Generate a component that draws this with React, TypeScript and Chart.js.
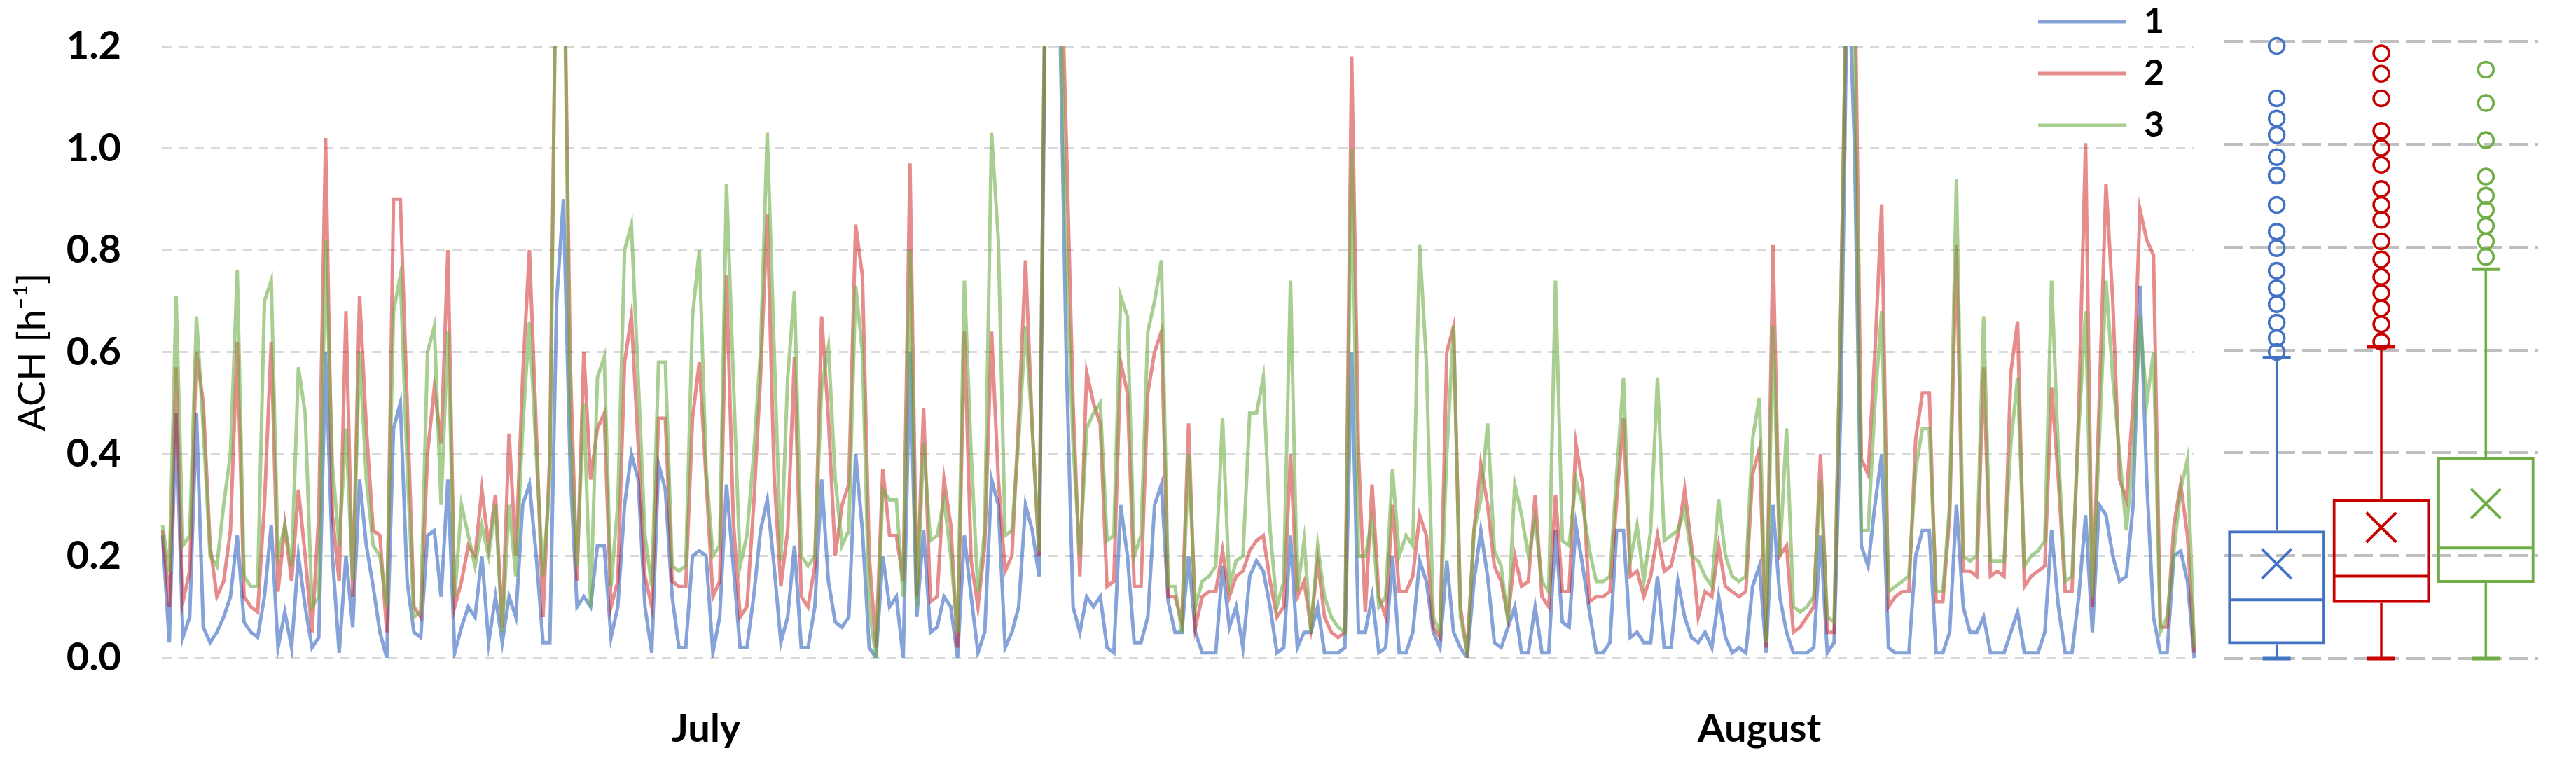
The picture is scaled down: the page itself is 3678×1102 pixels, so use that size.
import React, { useEffect, useRef } from 'react';
import { Chart, registerables } from 'chart.js';

Chart.register(...registerables);

const FONT = "Lato, 'Noto Sans', 'DejaVu Sans', sans-serif";

// ---- time-series (one value every ~4.8 h, July -> end of August) ----
const series1 = [
  0.24, 0.03, 0.48, 0.04, 0.08, 0.48, 0.06, 0.03, 0.05, 0.08,
  0.12, 0.24, 0.07, 0.05, 0.04, 0.12, 0.26, 0.02, 0.09, 0.02,
  0.20, 0.10, 0.02, 0.04, 0.60, 0.20, 0.01, 0.20, 0.06, 0.35,
  0.22, 0.14, 0.05, 0.00, 0.45, 0.50, 0.15, 0.05, 0.04, 0.24,
  0.25, 0.12, 0.35, 0.01, 0.06, 0.10, 0.08, 0.20, 0.03, 0.12,
  0.03, 0.12, 0.08, 0.30, 0.34, 0.20, 0.03, 0.03, 0.70, 0.90,
  0.37, 0.10, 0.12, 0.10, 0.22, 0.22, 0.04, 0.10, 0.30, 0.40,
  0.35, 0.10, 0.01, 0.38, 0.33, 0.12, 0.02, 0.02, 0.20, 0.21,
  0.20, 0.01, 0.08, 0.34, 0.18, 0.02, 0.02, 0.12, 0.25, 0.31,
  0.18, 0.03, 0.08, 0.22, 0.02, 0.02, 0.10, 0.35, 0.15, 0.07,
  0.06, 0.08, 0.40, 0.25, 0.02, 0.00, 0.20, 0.10, 0.12, 0.00,
  0.60, 0.08, 0.25, 0.05, 0.06, 0.12, 0.10, 0.00, 0.24, 0.12,
  0.01, 0.05, 0.35, 0.30, 0.02, 0.05, 0.10, 0.30, 0.25, 0.16,
  1.40, 1.50, 1.30, 0.59, 0.10, 0.05, 0.12, 0.10, 0.12, 0.02,
  0.01, 0.30, 0.20, 0.03, 0.03, 0.08, 0.30, 0.34, 0.11, 0.05,
  0.05, 0.20, 0.05, 0.01, 0.01, 0.01, 0.18, 0.06, 0.10, 0.02,
  0.16, 0.19, 0.17, 0.10, 0.01, 0.02, 0.24, 0.02, 0.05, 0.05,
  0.10, 0.01, 0.01, 0.01, 0.02, 0.60, 0.05, 0.05, 0.12, 0.01,
  0.02, 0.20, 0.01, 0.01, 0.05, 0.19, 0.15, 0.05, 0.02, 0.19,
  0.05, 0.02, 0.00, 0.15, 0.25, 0.16, 0.03, 0.02, 0.06, 0.10,
  0.01, 0.01, 0.10, 0.01, 0.01, 0.25, 0.07, 0.06, 0.26, 0.18,
  0.09, 0.01, 0.01, 0.03, 0.25, 0.25, 0.04, 0.05, 0.03, 0.03,
  0.16, 0.02, 0.02, 0.15, 0.08, 0.04, 0.03, 0.05, 0.02, 0.12,
  0.04, 0.01, 0.02, 0.01, 0.14, 0.18, 0.01, 0.30, 0.12, 0.05,
  0.01, 0.01, 0.01, 0.02, 0.24, 0.01, 0.03, 0.50, 1.40, 1.00,
  0.22, 0.18, 0.30, 0.40, 0.02, 0.01, 0.01, 0.01, 0.20, 0.25,
  0.25, 0.01, 0.01, 0.05, 0.30, 0.10, 0.05, 0.05, 0.08, 0.01,
  0.01, 0.01, 0.05, 0.09, 0.01, 0.01, 0.01, 0.05, 0.25, 0.10,
  0.01, 0.01, 0.12, 0.28, 0.05, 0.30, 0.28, 0.20, 0.15, 0.16,
  0.30, 0.73, 0.35, 0.08, 0.01, 0.01, 0.20, 0.21, 0.15, 0.00,
];
const series2 = [
  0.25, 0.10, 0.57, 0.11, 0.17, 0.60, 0.50, 0.22, 0.12, 0.15,
  0.25, 0.62, 0.12, 0.10, 0.09, 0.30, 0.62, 0.13, 0.26, 0.15,
  0.33, 0.20, 0.05, 0.28, 1.02, 0.28, 0.15, 0.68, 0.12, 0.71,
  0.45, 0.25, 0.24, 0.05, 0.90, 0.90, 0.50, 0.10, 0.08, 0.40,
  0.53, 0.42, 0.80, 0.10, 0.15, 0.22, 0.20, 0.33, 0.22, 0.32,
  0.06, 0.44, 0.20, 0.55, 0.80, 0.45, 0.08, 0.40, 1.50, 1.50,
  0.58, 0.15, 0.60, 0.35, 0.45, 0.48, 0.10, 0.15, 0.58, 0.67,
  0.42, 0.16, 0.10, 0.47, 0.47, 0.15, 0.14, 0.14, 0.47, 0.58,
  0.35, 0.12, 0.15, 0.75, 0.27, 0.08, 0.10, 0.30, 0.55, 0.87,
  0.36, 0.14, 0.25, 0.59, 0.12, 0.10, 0.18, 0.67, 0.47, 0.20,
  0.30, 0.34, 0.85, 0.75, 0.20, 0.02, 0.37, 0.24, 0.24, 0.15,
  0.97, 0.12, 0.49, 0.11, 0.12, 0.35, 0.26, 0.02, 0.64, 0.19,
  0.10, 0.22, 0.64, 0.35, 0.17, 0.20, 0.47, 0.78, 0.45, 0.20,
  1.50, 1.60, 1.50, 1.02, 0.50, 0.16, 0.56, 0.50, 0.46, 0.14,
  0.15, 0.58, 0.52, 0.14, 0.14, 0.52, 0.60, 0.64, 0.12, 0.12,
  0.07, 0.46, 0.06, 0.12, 0.13, 0.13, 0.21, 0.12, 0.16, 0.17,
  0.21, 0.23, 0.24, 0.15, 0.08, 0.10, 0.40, 0.12, 0.15, 0.06,
  0.19, 0.08, 0.05, 0.04, 0.05, 1.18, 0.40, 0.09, 0.34, 0.12,
  0.08, 0.30, 0.13, 0.13, 0.16, 0.28, 0.24, 0.06, 0.04, 0.60,
  0.65, 0.10, 0.01, 0.25, 0.38, 0.30, 0.18, 0.15, 0.08, 0.20,
  0.14, 0.15, 0.32, 0.12, 0.10, 0.32, 0.13, 0.13, 0.42, 0.34,
  0.11, 0.12, 0.12, 0.13, 0.31, 0.47, 0.16, 0.17, 0.12, 0.16,
  0.24, 0.17, 0.18, 0.24, 0.33, 0.22, 0.08, 0.13, 0.12, 0.22,
  0.14, 0.13, 0.12, 0.13, 0.36, 0.41, 0.02, 0.81, 0.20, 0.22,
  0.05, 0.06, 0.08, 0.10, 0.40, 0.05, 0.05, 0.70, 1.50, 1.40,
  0.39, 0.36, 0.60, 0.89, 0.10, 0.12, 0.13, 0.13, 0.43, 0.52,
  0.52, 0.11, 0.11, 0.28, 0.81, 0.17, 0.17, 0.16, 0.57, 0.16,
  0.17, 0.16, 0.56, 0.66, 0.14, 0.16, 0.17, 0.18, 0.53, 0.35,
  0.13, 0.13, 0.49, 1.01, 0.10, 0.50, 0.93, 0.70, 0.35, 0.31,
  0.50, 0.88, 0.82, 0.79, 0.06, 0.06, 0.26, 0.34, 0.24, 0.01,
];
const series3 = [
  0.26, 0.17, 0.71, 0.22, 0.24, 0.67, 0.45, 0.20, 0.18, 0.30,
  0.40, 0.76, 0.16, 0.14, 0.14, 0.70, 0.74, 0.20, 0.26, 0.18,
  0.57, 0.48, 0.10, 0.12, 0.82, 0.38, 0.22, 0.45, 0.15, 0.60,
  0.35, 0.22, 0.20, 0.10, 0.68, 0.75, 0.38, 0.08, 0.09, 0.60,
  0.65, 0.30, 0.64, 0.12, 0.30, 0.24, 0.18, 0.26, 0.20, 0.30,
  0.05, 0.30, 0.16, 0.45, 0.66, 0.40, 0.16, 0.35, 1.50, 1.50,
  0.45, 0.18, 0.50, 0.10, 0.55, 0.59, 0.14, 0.30, 0.80, 0.85,
  0.55, 0.24, 0.14, 0.58, 0.58, 0.18, 0.17, 0.18, 0.67, 0.80,
  0.37, 0.20, 0.22, 0.93, 0.55, 0.18, 0.24, 0.40, 0.60, 1.03,
  0.61, 0.19, 0.55, 0.72, 0.20, 0.18, 0.20, 0.53, 0.61, 0.35,
  0.22, 0.25, 0.73, 0.60, 0.10, 0.00, 0.33, 0.31, 0.31, 0.12,
  0.80, 0.10, 0.42, 0.23, 0.24, 0.31, 0.20, 0.05, 0.74, 0.40,
  0.13, 0.25, 1.03, 0.82, 0.24, 0.25, 0.43, 0.65, 0.45, 0.21,
  1.50, 1.60, 1.40, 0.80, 0.42, 0.20, 0.45, 0.48, 0.50, 0.23,
  0.24, 0.71, 0.67, 0.20, 0.24, 0.64, 0.70, 0.78, 0.14, 0.14,
  0.05, 0.40, 0.10, 0.15, 0.16, 0.18, 0.47, 0.14, 0.19, 0.20,
  0.48, 0.48, 0.55, 0.25, 0.10, 0.15, 0.74, 0.13, 0.23, 0.05,
  0.22, 0.12, 0.08, 0.06, 0.05, 1.00, 0.20, 0.20, 0.27, 0.10,
  0.12, 0.37, 0.20, 0.24, 0.22, 0.81, 0.58, 0.08, 0.05, 0.40,
  0.65, 0.08, 0.01, 0.25, 0.31, 0.46, 0.21, 0.18, 0.07, 0.34,
  0.28, 0.20, 0.27, 0.15, 0.13, 0.74, 0.23, 0.22, 0.35, 0.30,
  0.21, 0.15, 0.15, 0.16, 0.36, 0.55, 0.19, 0.26, 0.15, 0.25,
  0.55, 0.23, 0.24, 0.25, 0.29, 0.20, 0.19, 0.16, 0.14, 0.31,
  0.20, 0.16, 0.15, 0.16, 0.43, 0.51, 0.03, 0.65, 0.20, 0.45,
  0.10, 0.09, 0.10, 0.12, 0.35, 0.08, 0.07, 0.70, 1.50, 1.20,
  0.25, 0.25, 0.50, 0.68, 0.13, 0.14, 0.15, 0.16, 0.37, 0.45,
  0.45, 0.13, 0.13, 0.30, 0.94, 0.20, 0.19, 0.20, 0.67, 0.19,
  0.19, 0.19, 0.42, 0.55, 0.18, 0.20, 0.21, 0.23, 0.74, 0.40,
  0.15, 0.16, 0.45, 0.68, 0.12, 0.42, 0.74, 0.55, 0.40, 0.25,
  0.40, 0.67, 0.50, 0.60, 0.05, 0.08, 0.21, 0.33, 0.39, 0.02,
];
const seriesNames = ['1', '2', '3'];
const timeLabels = series1.map((_, i) => String(i));
const monthTickIndex = [80, 235];
const monthNames = ['July', 'August'];
const yMin = 0;
const yMax = 1.2;
const yStep = 0.2;

// ---- box plot statistics ----
const boxLabels = ['1', '2', '3'];
const boxQ1 = [0.028, 0.108, 0.147];
const boxQ3 = [0.249, 0.31, 0.392];
const boxMedian = [0.114, 0.16, 0.215];
const boxMean = [0.184, 0.255, 0.301];
const boxWhiskerLow = [0, 0, 0];
const boxWhiskerHigh = [0.585, 0.606, 0.757];
const outliers1 = [1.191, 1.089, 1.05, 1.018, 0.975, 0.939, 0.882, 0.83, 0.798, 0.754, 0.72, 0.689, 0.653, 0.623, 0.596];
const outliers2 = [1.177, 1.137, 1.089, 1.026, 0.993, 0.96, 0.913, 0.882, 0.853, 0.811, 0.776, 0.742, 0.711, 0.681, 0.65, 0.616];
const outliers3 = [1.145, 1.08, 1.008, 0.937, 0.9, 0.872, 0.841, 0.811, 0.781];

const lineColors = ['rgba(68,114,196,0.65)', 'rgba(200,0,0,0.45)', 'rgba(112,173,71,0.6)'];
const boxColors = ['#4472C4', '#C80000', '#70AD47'];

const LEGEND_LEFT = 2886;
const LEGEND_TOP = -18;

const legendMover = {
  id: 'legendMover',
  afterLayout(chart: any) {
    const lg = chart.legend;
    if (!lg) return;
    lg.left = LEGEND_LEFT;
    lg.right = LEGEND_LEFT + lg.width;
    lg.top = LEGEND_TOP;
    lg.bottom = LEGEND_TOP + 500;
  },
};

const boxPlugin = {
  id: 'boxWhiskers',
  afterDatasetsDraw(chart: any) {
    const { ctx } = chart;
    const y = chart.scales.y;
    const meta = chart.getDatasetMeta(0);
    const seg = (x1: number, y1: number, x2: number, y2: number) => {
      ctx.beginPath();
      ctx.moveTo(x1, y1);
      ctx.lineTo(x2, y2);
      ctx.stroke();
    };
    ctx.save();
    boxLabels.forEach((_, i) => {
      const bar = meta.data[i];
      if (!bar) return;
      const cx = bar.x;
      const half = bar.width / 2;
      const yHi = y.getPixelForValue(boxWhiskerHigh[i]);
      const yLo = y.getPixelForValue(boxWhiskerLow[i]);
      ctx.strokeStyle = boxColors[i];
      ctx.lineCap = 'butt';
      ctx.lineWidth = 3.5;
      seg(cx, y.getPixelForValue(boxQ3[i]), cx, yHi);
      seg(cx, y.getPixelForValue(boxQ1[i]), cx, yLo);
      ctx.lineWidth = 5;
      seg(cx - 20, yHi, cx + 20, yHi);
      seg(cx - 20, yLo, cx + 20, yLo);
      ctx.lineWidth = 4;
      const ym = y.getPixelForValue(boxMedian[i]);
      seg(cx - half + 2, ym, cx + half - 2, ym);
    });
    ctx.restore();
  },
};

export default function App() {
  const mainRef = useRef<HTMLCanvasElement>(null);
  const boxRef = useRef<HTMLCanvasElement>(null);

  useEffect(() => {
    document.body.style.margin = '0';
    Chart.defaults.font.family = FONT;

    const main = new Chart(mainRef.current as HTMLCanvasElement, {
      type: 'line',
      data: {
        labels: timeLabels,
        datasets: [series1, series2, series3].map((d, i) => ({
          label: seriesNames[i],
          data: d,
          borderColor: lineColors[i],
          backgroundColor: lineColors[i],
          borderWidth: 5,
          pointRadius: 0,
          tension: 0,
          fill: false,
          order: 3 - i,
        })),
      },
      options: {
        responsive: false,
        animation: false,
        events: [],
        layout: { padding: { left: 0, right: 545, top: 66, bottom: 0 } },
        plugins: {
          tooltip: { enabled: false },
          legend: {
            display: true,
            position: 'chartArea',
            align: 'start',
            labels: {
              boxWidth: 126,
              boxHeight: 5,
              padding: 24,
              color: '#000',
              font: { family: FONT, size: 50, weight: 'bold' },
              generateLabels: (chart: any) =>
                chart.data.datasets.map((ds: any, i: number) => ({
                  text: ds.label,
                  fillStyle: ds.borderColor,
                  strokeStyle: ds.borderColor,
                  lineWidth: 0,
                  hidden: false,
                  datasetIndex: i,
                  fontColor: '#000',
                })),
            },
          },
        },
        scales: {
          x: {
            type: 'category',
            grid: { display: false },
            border: { display: false },
            ticks: {
              autoSkip: false,
              maxRotation: 0,
              minRotation: 0,
              padding: 60,
              color: '#000',
              font: { family: FONT, size: 56, weight: 'bold' },
              callback: (value: any) => {
                const k = monthTickIndex.indexOf(Number(value));
                return k >= 0 ? monthNames[k] : '';
              },
            },
            afterBuildTicks: (scale: any) => {
              scale.ticks = monthTickIndex.map((v) => ({ value: v }));
            },
            afterFit: (scale: any) => {
              scale.height = 163;
            },
          },
          y: {
            min: yMin,
            max: yMax,
            ticks: {
              stepSize: yStep,
              padding: 3,
              color: '#000',
              font: { family: FONT, size: 56, weight: 'bold' },
              callback: (v: any) => Number(v).toFixed(1),
            },
            grid: {
              color: '#D9D9D9',
              lineWidth: 3,
              drawTicks: true,
              tickLength: 56,
              tickColor: 'rgba(0,0,0,0)',
            },
            border: { display: false, dash: [13, 10] },
            title: {
              display: true,
              text: 'ACH [h⁻¹]',
              color: '#000',
              font: { family: FONT, size: 54, weight: 'normal' },
              padding: { top: 14, bottom: 0 },
            },
            afterFit: (scale: any) => {
              scale.width = 232;
            },
          },
        },
      } as any,
      plugins: [legendMover],
    });

    const outlierSets = [outliers1, outliers2, outliers3].map((arr, i) => ({
      type: 'scatter' as const,
      data: arr.map((v) => ({ x: boxLabels[i], y: v })),
      pointStyle: 'circle',
      pointRadius: 11,
      pointBorderWidth: 3.5,
      pointBorderColor: boxColors[i],
      pointBackgroundColor: 'rgba(0,0,0,0)',
      clip: false,
    }));

    const box = new Chart(boxRef.current as HTMLCanvasElement, {
      type: 'bar',
      data: {
        labels: boxLabels,
        datasets: [
          {
            type: 'bar',
            data: boxQ1.map((q, i) => [q, boxQ3[i]]),
            backgroundColor: 'rgba(0,0,0,0)',
            borderColor: boxColors,
            borderWidth: 4,
            borderSkipped: false,
            barPercentage: 0.93,
            categoryPercentage: 1,
          },
          ...outlierSets,
          {
            type: 'scatter',
            data: boxMean.map((m, i) => ({ x: boxLabels[i], y: m })),
            pointStyle: 'crossRot',
            pointRadius: 30,
            pointBorderWidth: 4,
            pointBorderColor: boxColors,
            pointBackgroundColor: boxColors,
            clip: false,
          },
        ] as any,
      },
      options: {
        responsive: false,
        animation: false,
        events: [],
        layout: { padding: { left: 36, right: 54, top: 59, bottom: 162 } },
        plugins: { legend: { display: false }, tooltip: { enabled: false } },
        scales: {
          x: { type: 'category', display: false, offset: true },
          y: {
            min: yMin,
            max: yMax,
            ticks: { display: false, stepSize: yStep },
            grid: { color: '#BFBFBF', lineWidth: 4, drawTicks: false },
            border: { display: false, dash: [27, 10] },
            afterFit: (scale: any) => {
              scale.width = 0;
            },
          },
        },
      } as any,
      plugins: [boxPlugin],
    });

    return () => {
      main.destroy();
      box.destroy();
    };
  }, []);

  return (
    <div style={{ position: 'relative', width: 3678, height: 1102, background: '#fff' }}>
      <canvas ref={mainRef} width={3678} height={1102} style={{ position: 'absolute', left: 0, top: 0 }} />
      <canvas ref={boxRef} width={538} height={1102} style={{ position: 'absolute', left: 3140, top: 0 }} />
    </div>
  );
}
